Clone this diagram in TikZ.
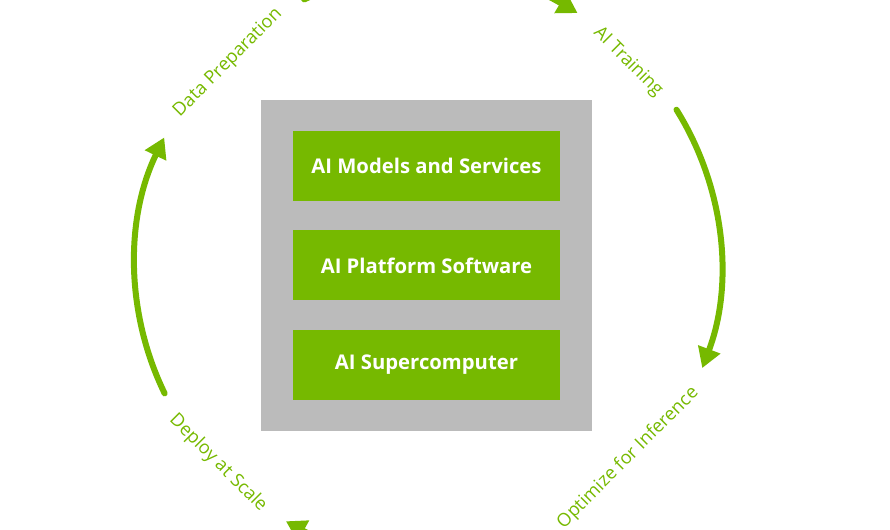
\documentclass[tikz,border=0pt]{standalone}
\usepackage{fontspec}
\setmainfont{Open Sans}
\usetikzlibrary{arrows.meta,positioning}
\definecolor{nvgreen}{HTML}{76B900}
\definecolor{stackgray}{HTML}{BBBBBB}

\begin{document}
\begin{tikzpicture}[
  x=0.75pt, y=0.75pt,
  node distance=21.75pt,
  stackbox/.style={rectangle, fill=stackgray, minimum width=248.25pt,
    minimum height=248.25pt, inner sep=0pt},
  layer/.style={rectangle, fill=nvgreen, text=white, font=\bfseries\fontsize{15.2}{17}\selectfont,
    minimum width=200.25pt, minimum height=52.5pt, inner sep=0pt},
  phase/.style={text=nvgreen, font=\fontsize{13.7}{15}\selectfont, inner sep=1pt},
  cycle/.style={-{Triangle[length=15pt, width=17pt]}, line width=4.5pt, nvgreen, line cap=round},
]
\useasboundingbox (-428,-270) rectangle (462,260);
\clip (-428,-270) rectangle (462,260);
\coordinate (hub) at (0,-5);
\node[stackbox] (stack) at (-1.5,-5.5) {};
\node[layer] (platform) at (stack) {AI Platform Software};
\node[layer, above=of platform] (models) {AI Models and Services};
\node[layer, below=of platform] (super) {AI Supercomputer};
\node[phase, rotate=45] (prep) at (-200,197) {Data Preparation};
\node[phase, rotate=-45] (train) at (200,198) {AI Training};
\node[phase, rotate=45] (infer) at (200,-198) {Optimize for Inference};
\node[phase, rotate=-45] (deploy) at (-210,-203) {Deploy at Scale};
\draw[cycle] ([shift={(115:293)}]hub) arc[start angle=115, end angle=59.3, radius=219.75pt];
\draw[cycle] ([shift={(32:293)}]hub) arc[start angle=32, end angle=-20.6, radius=219.75pt];
\draw[cycle] ([shift={(-70:293)}]hub) arc[start angle=-70, end angle=-119, radius=219.75pt];
\draw[cycle] ([shift={(206:293)}]hub) arc[start angle=206, end angle=154.2, radius=219.75pt];
\end{tikzpicture}
\end{document}
